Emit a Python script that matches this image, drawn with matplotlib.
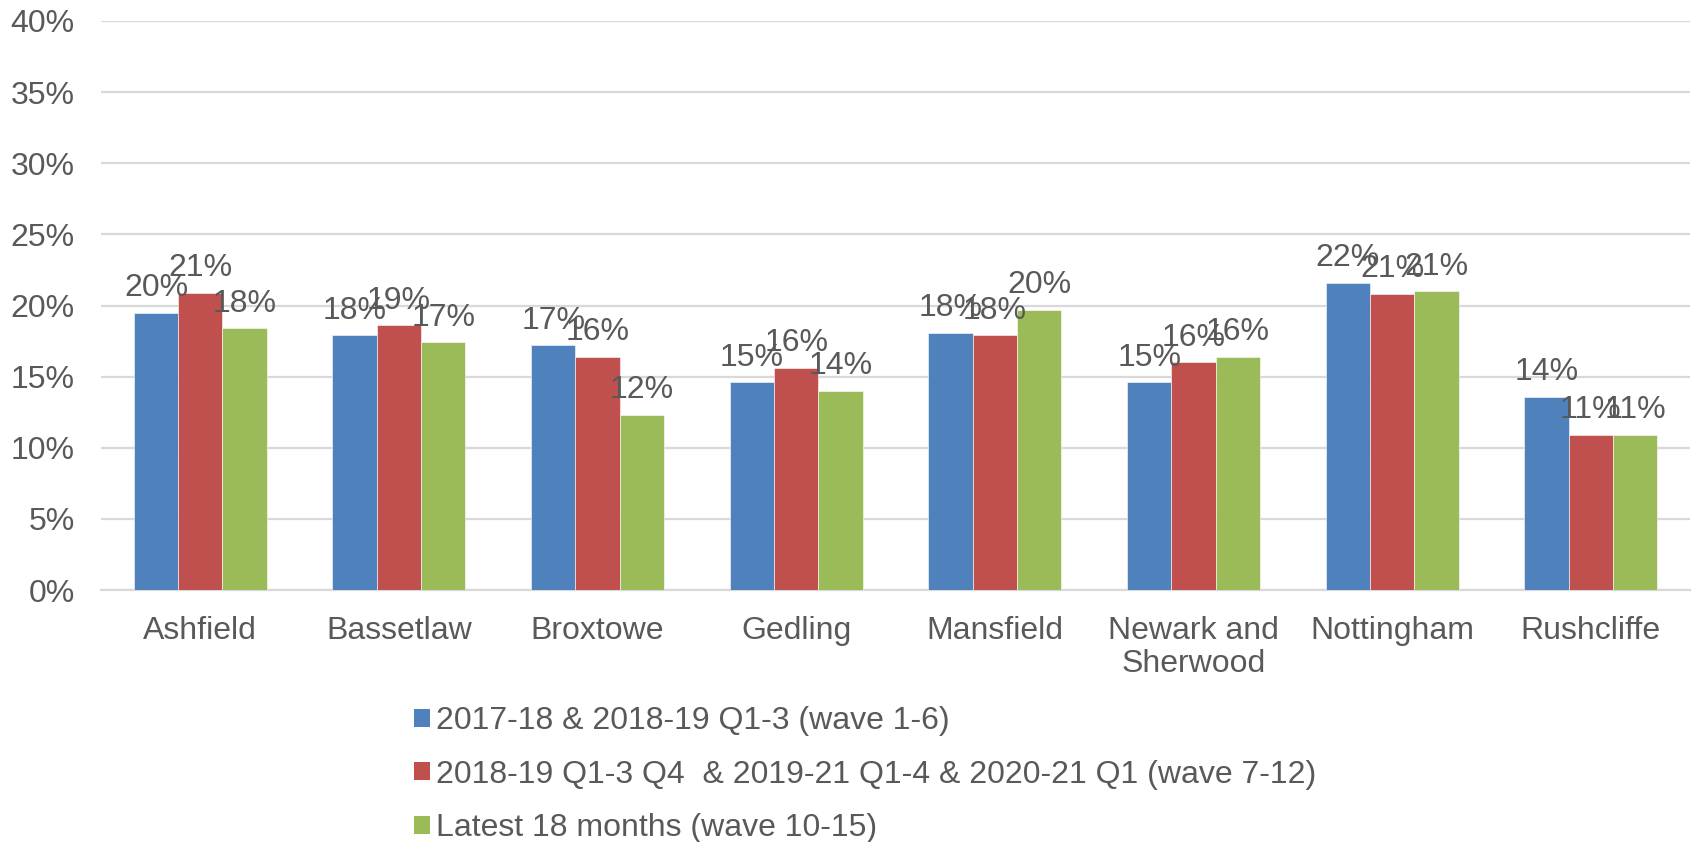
import matplotlib
matplotlib.use("Agg")
import matplotlib.pyplot as plt
import numpy as np
from matplotlib.patches import Patch

plt.rcParams['font.family'] = ['Liberation Sans', 'DejaVu Sans']

categories = ["Ashfield", "Bassetlaw", "Broxtowe", "Gedling", "Mansfield",
              "Newark and\nSherwood", "Nottingham", "Rushcliffe"]
series_names = ["2017-18 & 2018-19 Q1-3 (wave 1-6)",
                "2018-19 Q1-3 Q4  & 2019-21 Q1-4 & 2020-21 Q1 (wave 7-12)",
                "Latest 18 months (wave 10-15)"]
wave_1_6 = [19.5, 17.9, 17.2, 14.6, 18.1, 14.6, 21.6, 13.6]
wave_7_12 = [20.9, 18.6, 16.4, 15.6, 17.9, 16.0, 20.8, 10.9]
wave_10_15 = [18.4, 17.4, 12.3, 14.0, 19.7, 16.4, 21.0, 10.9]
colors = ["#4F81BD", "#C0504D", "#9BBB59"]
yticks = [0, 5, 10, 15, 20, 25, 30, 35, 40]

text_color = "#595959"
fs = 23

fig = plt.figure(figsize=(16.96, 8.42), dpi=100)
ax = fig.add_axes([101/1696, 1-590/842, (1690-101)/1696, (590-21)/842])

x = np.arange(len(categories))
w = 0.223
for i, (vals, c) in enumerate(zip([wave_1_6, wave_7_12, wave_10_15], colors)):
    pos = x + (i - 1) * w
    ax.bar(pos, vals, width=w, color=c, edgecolor='white', linewidth=0.4, zorder=3)
    for px, v in zip(pos, vals):
        ax.annotate(f"{round(v):.0f}%", (px, v), xytext=(0, 12), textcoords='offset points',
                    ha='center', va='baseline', fontsize=fs, color=text_color, zorder=4)

ax.set_xlim(-0.5, len(categories) - 0.5)
ax.set_ylim(0, 40)
ax.set_yticks(yticks)
ax.set_yticklabels([f"{t}%" for t in yticks])
ax.set_xticks(x)
ax.set_xticklabels(categories, linespacing=1.1)
ax.tick_params(axis='both', length=0, labelsize=fs, colors=text_color)
ax.tick_params(axis='y', pad=19)
ax.tick_params(axis='x', pad=19)
ax.yaxis.grid(True, color='#D9D9D9', linewidth=1.6, zorder=0)
for s in ['top', 'right', 'left']:
    ax.spines[s].set_visible(False)
ax.spines['bottom'].set_color('#D9D9D9')
ax.spines['bottom'].set_linewidth(1.6)
ax.spines['bottom'].set_zorder(2)

handles = [Patch(facecolor=c, edgecolor='none') for c in colors]
leg = fig.legend(handles, series_names, loc='upper left',
                 bbox_to_anchor=(414/1696, 1-706/842), frameon=False,
                 fontsize=fs, labelcolor=text_color,
                 handlelength=0.5, handleheight=0.5, handletextpad=0.2,
                 labelspacing=0.74, borderaxespad=0, borderpad=0)

fig.savefig("out.png", dpi=100)
